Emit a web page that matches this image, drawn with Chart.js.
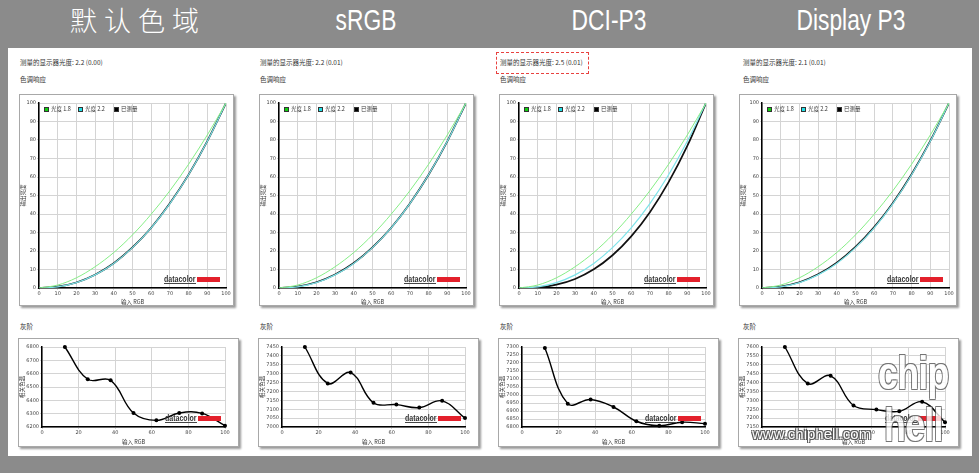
<!DOCTYPE html>
<html>
<head>
<meta charset="utf-8">
<script src="https://cdn.jsdelivr.net/npm/chart.js@4.4.0/dist/chart.umd.min.js"></script>
<style>
  html, body { margin: 0; padding: 0; }
  body { width: 979px; height: 473px; background: #8b8b8b; position: relative; overflow: hidden;
         font-family: "Noto Sans CJK SC", "Noto Sans", sans-serif; }
  .abs { position: absolute; }
  .title { color: #fff; top: 3px; text-align: center; white-space: nowrap;
           font-family: "Liberation Sans Narrow", "Liberation Sans", sans-serif; font-size: 30px; }
  .title.cjk { font-family: "Noto Sans CJK SC", sans-serif; font-size: 27px; letter-spacing: 7px; top: 0px; font-weight: 300; }
  .sheet { left: 8px; top: 48px; width: 964px; height: 408px; background: #fff; }
  .small { font-size: 6.5px; color: #333; white-space: nowrap; }
  .frame { background: #fff; border: 1px solid #a8a8a8; box-shadow: 2px 2px 2px #9a9a9a; }
  .logo { font-family: "Liberation Sans", sans-serif; font-weight: bold; font-size: 9px; color: #333;
          border-bottom: 1px solid #444; line-height: 8px; transform: scaleX(0.78); transform-origin: 0 0; }
  .bar { background: #e3202b; height: 5px; width: 23px; }
  .dash { border: 1.5px dashed #e8413f; }
  .lg { font-size: 5.5px; color: #333; white-space: nowrap; line-height: 6px; }
  .lgbox { width: 3px; height: 3px; border: 1px solid #333; }
  .wm { color: #fff; font-family: "Liberation Sans", sans-serif; white-space: nowrap;
        text-shadow: 0 0 1px #444, 1px 1px 0 #555, -1px -1px 0 #555, 1px -1px 0 #555, -1px 1px 0 #555; }
</style>
</head>
<body>
<div class="abs sheet"></div>
<div id="root"></div>
<script>
const panelTitles = ['默认色域', 'sRGB', 'DCI-P3', 'Display P3'];
const titleCenters = [138, 366, 609, 851];
const gammaReadings = ['2.2 (0.00)', '2.2 (0.01)', '2.5 (0.01)', '2.1 (0.01)'];

// gamma (tone response) curves, input 0..100
const gammaInput = [0, 10, 20, 30, 40, 50, 60, 70, 80, 90, 100];
const gamma18 = [0, 1.6, 5.5, 11.5, 19.2, 28.7, 39.9, 52.6, 66.9, 82.7, 100];
const gamma22 = [0, 0.6, 2.9, 7.1, 13.3, 21.8, 32.5, 45.6, 61.2, 79.3, 100];
const measuredDefault = [0, 0.7, 3.0, 7.2, 13.4, 21.9, 32.6, 45.8, 61.3, 79.4, 100];
const measuredSRGB = [0, 0.8, 3.1, 7.3, 13.5, 22.0, 32.6, 45.7, 61.2, 79.3, 100];
const measuredDCI = [0, 0.3, 1.8, 4.9, 10.1, 17.7, 27.9, 41.0, 57.2, 76.8, 100];
const measuredP3 = [0, 0.8, 3.1, 7.4, 13.7, 22.2, 32.9, 46.0, 61.5, 79.5, 100];
const legendLabels = ['光度 1.8', '光度 2.2', '已测量'];
const legendColors = ['#10d010', '#20e0e8', '#000'];

// grey scale colour temperature
const greyInput = [12.5, 25, 37.5, 50, 62.5, 75, 87.5, 100];
const greyDefault = [6800, 6558, 6550, 6305, 6250, 6305, 6302, 6210];
const greySRGB = [7450, 7245, 7306, 7136, 7126, 7109, 7147, 7050];
const greyDCI = [7294, 6946, 6972, 6925, 6836, 6808, 6830, 6821];
const greyP3 = [7600, 7394, 7438, 7271, 7248, 7238, 7292, 7177];

const greyTicksDefault = [6200, 6300, 6400, 6500, 6600, 6700, 6800];
const greyTicksSRGB = [7000, 7050, 7100, 7150, 7200, 7250, 7300, 7350, 7400, 7450];
const greyTicksDCI = [6800, 6850, 6900, 6950, 7000, 7050, 7100, 7150, 7200, 7250, 7300];
const greyTicksP3 = [7150, 7200, 7250, 7300, 7350, 7400, 7450, 7500, 7550, 7600];

const measuredSets = [measuredDefault, measuredSRGB, measuredDCI, measuredP3];
const greySets = [greyDefault, greySRGB, greyDCI, greyP3];
const greyTickSets = [greyTicksDefault, greyTicksSRGB, greyTicksDCI, greyTicksP3];

const root = document.getElementById('root');
function el(cls, css, text) {
  const d = document.createElement('div');
  d.className = 'abs ' + cls;
  Object.assign(d.style, css);
  if (text !== undefined) d.textContent = text;
  root.appendChild(d);
  return d;
}
function pts(xs, ys) { return xs.map((x, i) => ({ x, y: ys[i] })) }

const tickFont = { size: 5, family: 'DejaVu Sans' };
const titleFont = { size: 5.5, family: 'Noto Sans CJK SC' };
const plainTick = v => String(v);

function makeGammaChart(i, left) {
  const shift = i === 3 ? 3 : 0;
  const w = 213 + shift;
  const frame = el('frame', { left: left + 'px', top: '94px', width: w + 'px', height: '210px' });
  const c = document.createElement('canvas');
  c.width = w; c.height = 210;
  frame.appendChild(c);
  new Chart(c, {
    type: 'line',
    data: {
      datasets: [
        { label: legendLabels[0], data: pts(gammaInput, gamma18), borderColor: '#86ee86', borderWidth: 1, pointRadius: 0, cubicInterpolationMode: 'monotone' },
        { label: legendLabels[1], data: pts(gammaInput, gamma22), borderColor: '#7ee4ea', borderWidth: 1.2, pointRadius: 0, cubicInterpolationMode: 'monotone' },
        { label: legendLabels[2], data: pts(gammaInput, measuredSets[i]), borderColor: '#111', borderWidth: 1.7, pointRadius: 0, cubicInterpolationMode: 'monotone' }
      ]
    },
    options: {
      animation: false, responsive: false,
      layout: { padding: { top: 8, right: 7, left: 0, bottom: 0 } },
      plugins: { legend: { display: false }, tooltip: { enabled: false } },
      scales: {
        x: { type: 'linear', min: 0, max: 100,
          ticks: { stepSize: 10, font: tickFont, color: '#444', padding: 1, maxRotation: 0, autoSkip: false },
          grid: { color: '#d4d4d4', tickLength: 2 },
          border: { color: '#000', width: 1.5 },
          title: { display: true, text: '输入 RGB', font: titleFont, color: '#333', padding: 0 },
          afterFit(s) { s.height = 17 } },
        y: { min: 0, max: 100,
          ticks: { stepSize: 10, font: tickFont, color: '#444', padding: 1, autoSkip: false },
          grid: { color: '#d4d4d4', tickLength: 2 },
          border: { color: '#000', width: 1.5 },
          title: { display: true, text: '输出亮度', font: titleFont, color: '#333', padding: 0 },
          afterFit(s) { s.width = 19 + shift } }
      }
    }
  });
  // legend row inside the plot, top-left
  const lx = [left + 25 + shift, left + 59 + shift, left + 95 + shift];
  legendLabels.forEach((t, k) => {
    el('lgbox', { left: lx[k] + 'px', top: '107px', background: legendColors[k] });
    el('lg', { left: (lx[k] + 7) + 'px', top: '106px' }, t);
  });
  el('logo', { left: (left + 145 + shift) + 'px', top: '275px' }, 'datacolor');
  el('bar', { left: (left + 178 + shift) + 'px', top: '277px' });
}

function makeGreyChart(i, left) {
  const frame = el('frame', { left: (left - 1) + 'px', top: '338px', width: '219px', height: '107px' });
  const c = document.createElement('canvas');
  c.width = 219; c.height = 107;
  frame.appendChild(c);
  const ticks = greyTickSets[i];
  new Chart(c, {
    type: 'line',
    data: {
      datasets: [
        { label: '灰阶', data: pts(greyInput, greySets[i]), borderColor: '#000', borderWidth: 1.4,
          pointRadius: 2, pointBackgroundColor: '#000', pointBorderWidth: 0, tension: 0.4, clip: false }
      ]
    },
    options: {
      animation: false, responsive: false,
      layout: { padding: { top: 8, right: 13, left: 0, bottom: 0 } },
      plugins: { legend: { display: false }, tooltip: { enabled: false } },
      scales: {
        x: { type: 'linear', min: 0, max: 100,
          ticks: { stepSize: 20, font: tickFont, color: '#444', padding: 1, maxRotation: 0, autoSkip: false },
          grid: { color: '#d4d4d4', tickLength: 2 },
          border: { color: '#000', width: 1.5 },
          title: { display: true, text: '输入 RGB', font: titleFont, color: '#333', padding: 1 },
          afterFit(s) { s.height = 19 } },
        y: { min: ticks[0], max: ticks[ticks.length - 1],
          ticks: { stepSize: ticks[1] - ticks[0], font: tickFont, color: '#444', padding: 1, autoSkip: false, callback: plainTick },
          grid: { color: '#d4d4d4', tickLength: 2 },
          border: { color: '#000', width: 1.5 },
          title: { display: true, text: '相关色温', font: titleFont, color: '#333', padding: 0 },
          afterFit(s) { s.width = 23 } }
      }
    }
  });
  el('logo', { left: (left + 146) + 'px', top: '414px' }, 'datacolor');
  el('bar', { left: (left + 179) + 'px', top: '416px' });
}

panelTitles.forEach((t, i) => {
  const left = 19 + i * 240;
  el('title' + (i === 0 ? ' cjk' : ''), { left: (titleCenters[i] - 100) + 'px', width: '200px',
    transform: i === 0 ? 'none' : 'scaleX(0.76)' }, t);
  const tx = left + 1 + (i === 3 ? 3 : 0);
  el('small', { left: tx + 'px', top: '57px' }, '测量的显示器光度:  ' + gammaReadings[i]);
  el('small', { left: tx + 'px', top: '74px' }, '色调响应');
  el('small', { left: tx + 'px', top: '321px' }, '灰阶');
  makeGammaChart(i, left);
  makeGreyChart(i, left);
});

// highlight around DCI-P3 reading
el('dash', { left: '496px', top: '52px', width: '91px', height: '20px' });

// watermark
el('wm', { left: '752px', top: '425px', fontSize: '15px', opacity: '0.95' }, 'www.chiphell.com');
el('wm', { left: '878px', top: '346px', fontSize: '46px', fontWeight: 'bold', opacity: '0.8',
  transform: 'scaleX(0.78)', transformOrigin: '0 0',
  fontFamily: '"Liberation Sans Narrow", "Liberation Sans", sans-serif', letterSpacing: '-1px' }, 'chip');
el('wm', { left: '884px', top: '398px', fontSize: '46px', fontWeight: 'bold', opacity: '0.8',
  transform: 'scaleX(0.78)', transformOrigin: '0 0',
  fontFamily: '"Liberation Sans Narrow", "Liberation Sans", sans-serif', letterSpacing: '-1px' }, 'hell');
</script>
</body>
</html>
